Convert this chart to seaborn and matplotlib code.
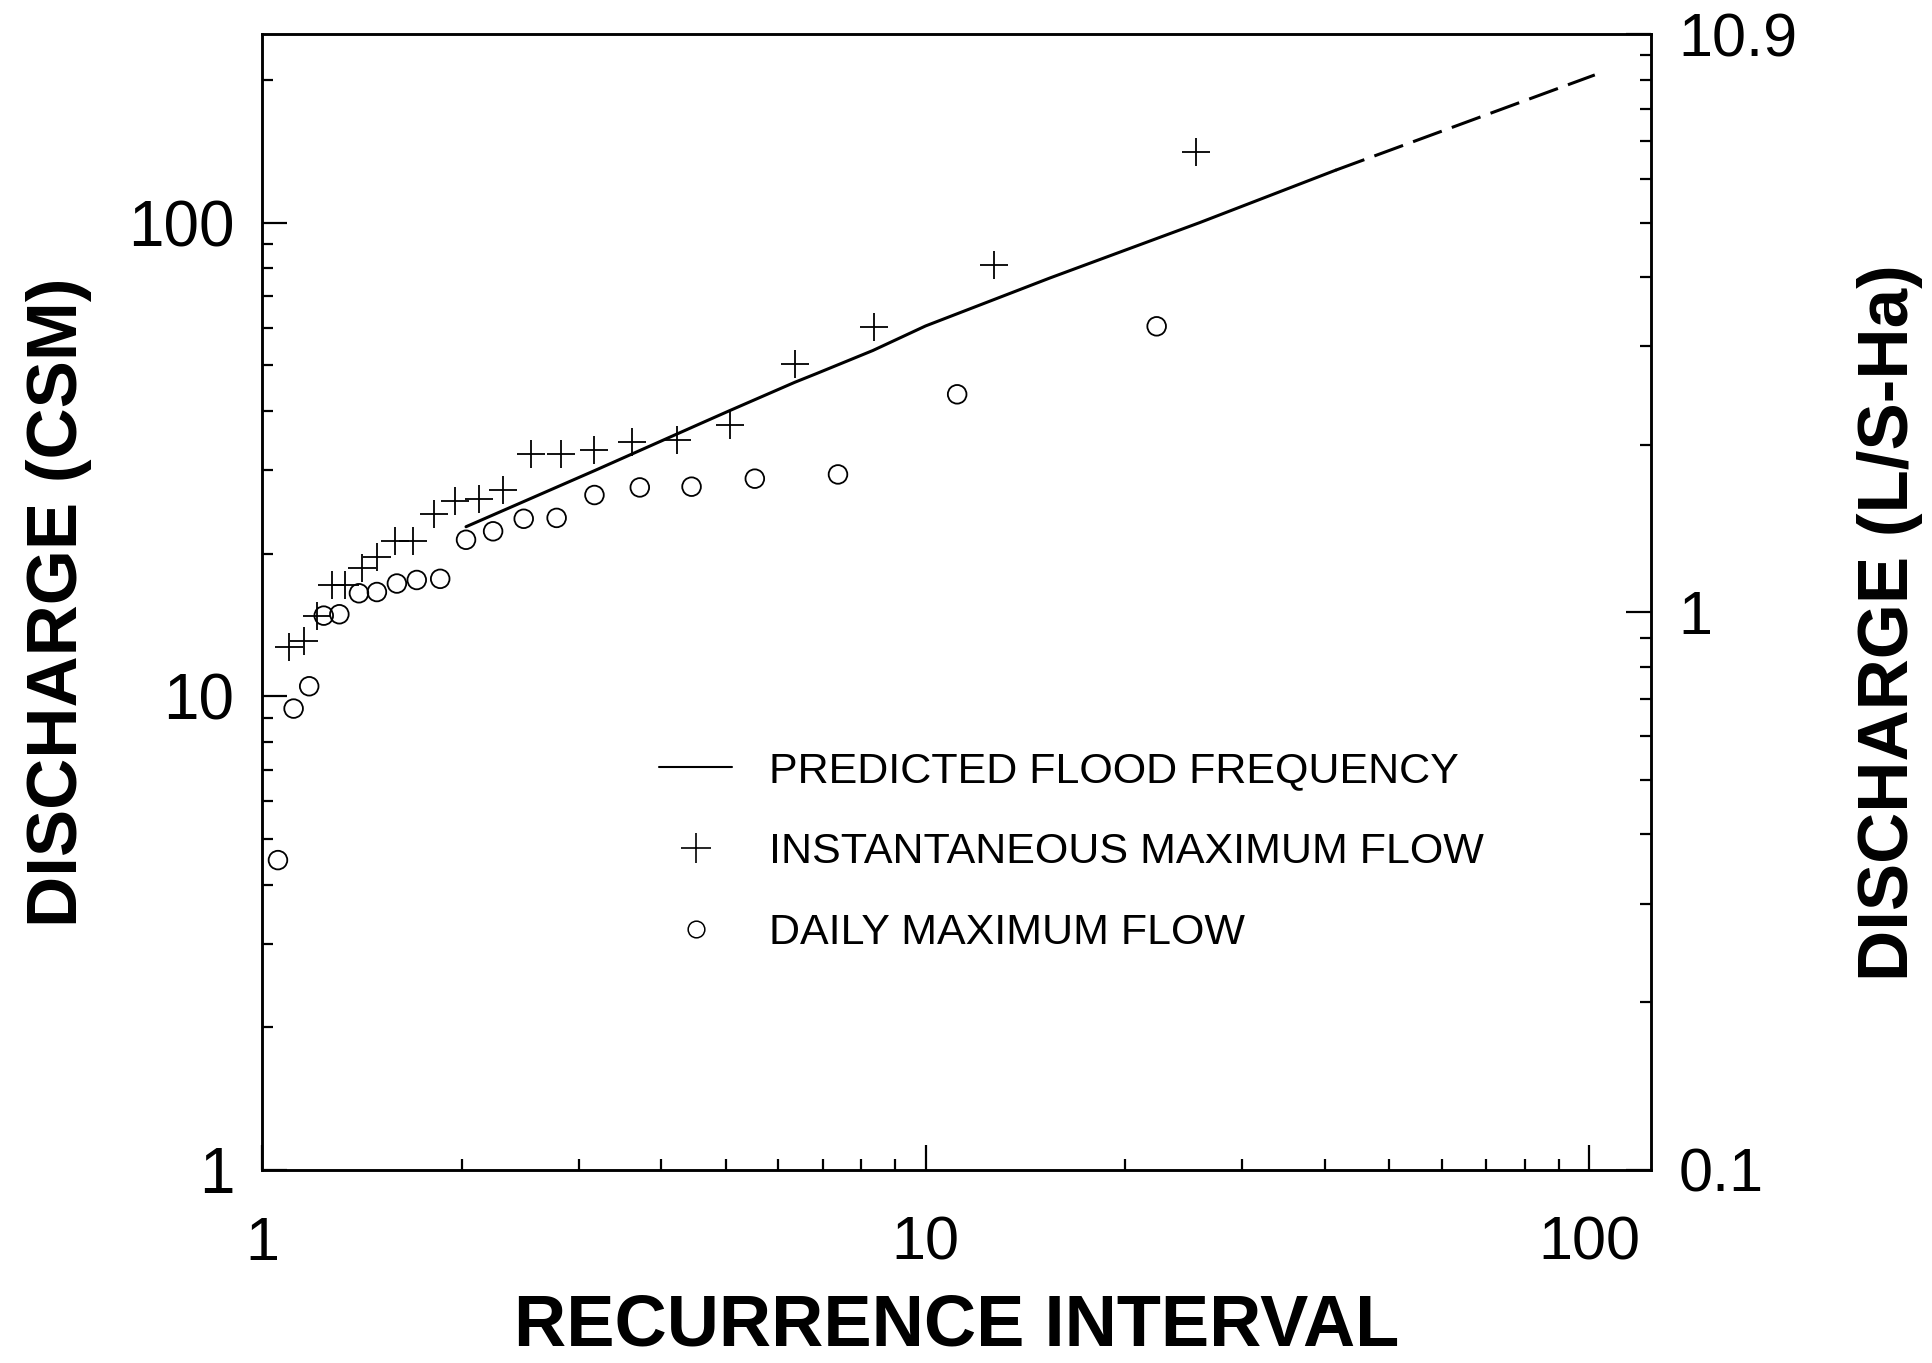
import numpy as np
import seaborn as sns
import matplotlib.pyplot as plt
from matplotlib.lines import Line2D
from matplotlib.ticker import FixedLocator, FixedFormatter, NullFormatter
from matplotlib import font_manager

# instantaneous maximum flow (recurrence interval, CSM)
inst_ri = [1.10, 1.155, 1.21, 1.275, 1.335, 1.414, 1.49, 1.588, 1.69, 1.814, 1.955, 2.12,
           2.31, 2.54, 2.82, 3.17, 3.61, 4.22, 5.07, 6.35, 8.37, 12.7, 25.6]
inst_q = [12.7, 13.1, 14.8, 17.2, 17.2, 18.7, 19.7, 21.3, 21.3, 24.3, 25.9, 26.1,
          27.2, 32.5, 32.5, 33.1, 34.4, 34.7, 37.3, 50.2, 60.2, 81.2, 141]

# daily maximum flow
daily_ri = [1.057, 1.116, 1.178, 1.239, 1.308, 1.40, 1.49, 1.597, 1.711, 1.856, 2.03,
            2.23, 2.48, 2.78, 3.17, 3.71, 4.44, 5.53, 7.38, 11.16, 22.3]
daily_q = [4.51, 9.42, 10.5, 14.8, 14.9, 16.5, 16.6, 17.3, 17.6, 17.7, 21.4,
           22.3, 23.7, 23.8, 26.6, 27.6, 27.7, 28.8, 29.4, 43.4, 60.4]

# predicted flood frequency (solid part, then extrapolated dashed part)
pred_ri = [2.03, 3.18, 4.57, 5.07, 6.35, 6.85, 8.33, 10, 15.4, 25.9, 41.5]
pred_q = [22.8, 30.0, 37.6, 40.1, 46.0, 48.0, 53.7, 60.5, 76.4, 100, 129]
ext_ri = [41.5, 102]
ext_q = [129, 205]

x_ticks = [1, 10, 100]
y_ticks = [1, 10, 100]
y2_ticks = [0.1, 1, 10.9]
y2_labels = ["0.1", "1", "10.9"]

sns.set_style("ticks")
plt.rcParams['font.family'] = ['Liberation Sans', 'DejaVu Sans']
plt.rcParams['text.color'] = 'black'
plt.rcParams['axes.labelcolor'] = 'black'
plt.rcParams['xtick.color'] = 'black'
plt.rcParams['ytick.color'] = 'black'

names = {f.name for f in font_manager.fontManager.ttflist}
if 'Liberation Sans Narrow' in names:
    leg_font = {'family': 'Liberation Sans Narrow', 'size': 37}
else:
    leg_font = {'family': 'Liberation Sans', 'size': 31}

fig, ax = plt.subplots(figsize=(19.32, 13.63), dpi=100)
fig.subplots_adjust(left=0.1356, right=0.8546, bottom=0.1416, top=0.975)
ax.set(xscale='log', yscale='log')

sns.lineplot(x=pred_ri, y=pred_q, color='black', lw=2.2, sort=False, estimator=None, ax=ax)
sns.lineplot(x=ext_ri, y=ext_q, color='black', lw=2.2, sort=False, estimator=None, ax=ax)
ax.lines[-1].set_dashes([10, 3.5])

sns.scatterplot(x=inst_ri, y=inst_q, marker='+', s=380, linewidth=1.3, ax=ax)
ax.collections[-1].set_edgecolor('black')
ax.collections[-1].set_facecolor('black')
sns.scatterplot(x=daily_ri, y=daily_q, marker='o', s=180, linewidth=1.3, ax=ax)
ax.collections[-1].set_facecolor('none')
ax.collections[-1].set_edgecolor('black')

ax.set_xlim(1, 124)
ax.set_ylim(1, 250)

ax.xaxis.set_major_locator(FixedLocator(x_ticks))
ax.xaxis.set_major_formatter(FixedFormatter([str(t) for t in x_ticks]))
ax.xaxis.set_minor_locator(FixedLocator([m * d for d in (1, 10) for m in range(2, 10)]))
ax.xaxis.set_minor_formatter(NullFormatter())
ax.yaxis.set_major_locator(FixedLocator(y_ticks))
ax.yaxis.set_major_formatter(FixedFormatter([str(t) for t in y_ticks]))
ax.yaxis.set_minor_locator(FixedLocator([m * d for d in (1, 10) for m in range(2, 10)] + [200]))
ax.yaxis.set_minor_formatter(NullFormatter())

ax.tick_params(which='both', direction='in', top=False, right=False, width=1.6, colors='black')
ax.tick_params(which='major', length=18, labelsize=44)
ax.tick_params(which='minor', length=8)
ax.tick_params(axis='x', which='major', pad=33)
ax.tick_params(axis='y', which='major', pad=20, labelsize=46)

for sp in ax.spines.values():
    sp.set_linewidth(1.8)
    sp.set_color('black')

ax2 = ax.twinx()
ax2.set_yscale('log')
ax2.set_ylim(0.1, 10.9)
ax2.yaxis.set_major_locator(FixedLocator(y2_ticks))
ax2.yaxis.set_major_formatter(FixedFormatter(y2_labels))
ax2.yaxis.set_minor_locator(FixedLocator([m * 0.1 for m in range(2, 10)] + list(range(2, 11))))
ax2.yaxis.set_minor_formatter(NullFormatter())
ax2.tick_params(which='both', direction='in', width=1.6, colors='black')
ax2.tick_params(which='major', length=18, labelsize=44, pad=20)
ax2.tick_params(which='minor', length=8)
for sp in ax2.spines.values():
    sp.set_linewidth(1.8)
    sp.set_color('black')

ax.set_xlabel('RECURRENCE INTERVAL', fontsize=52, fontweight='bold')
ax.xaxis.set_label_coords(0.5, -0.138)
ax.xaxis.label.set_va('center')
ax.set_ylabel('DISCHARGE (CSM)', fontsize=51, fontweight='bold')
ax.yaxis.set_label_coords(-0.146, 0.5)
ax.yaxis.label.set_va('center')
ax2.set_ylabel('DISCHARGE (L/S-Ha)', fontsize=51, fontweight='bold', rotation=90)
ax2.yaxis.set_label_coords(1.172, 0.482)
ax2.yaxis.label.set_va('center')

handles = [
    Line2D([], [], color='black', lw=1.5),
    Line2D([], [], color='black', marker='+', ls='none', markersize=22, markeredgewidth=1.2),
    Line2D([], [], color='black', marker='o', ls='none', markersize=12, markerfacecolor='none',
           markeredgewidth=1.1),
]
labels = ['PREDICTED FLOOD FREQUENCY', 'INSTANTANEOUS MAXIMUM FLOW', 'DAILY MAXIMUM FLOW']
ax.legend(handles, labels, loc='center left', bbox_to_anchor=(0.286, 0.28), frameon=False,
          prop=leg_font, handlelength=1.7, handletextpad=0.85, labelspacing=0.95,
          borderpad=0, borderaxespad=0, labelcolor='black')

plt.savefig('out.png', dpi=100)
